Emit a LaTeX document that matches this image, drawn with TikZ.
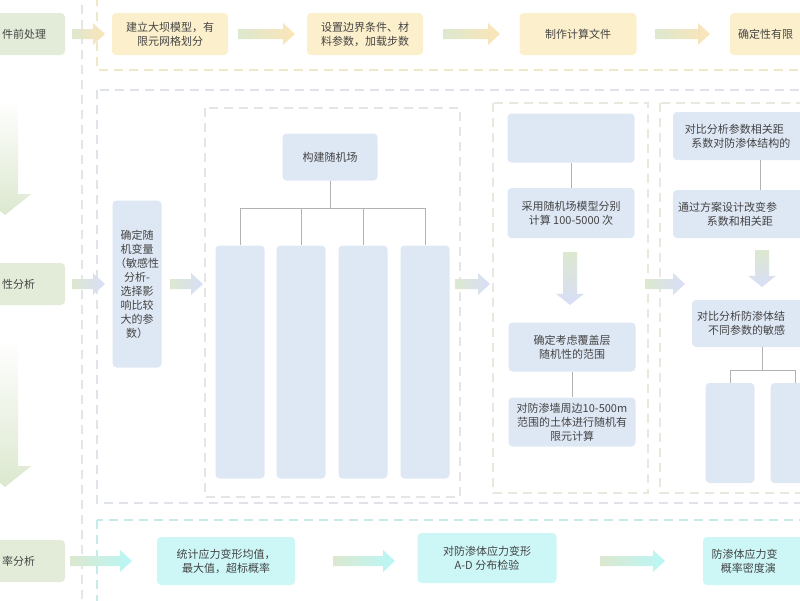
\documentclass[tikz,border=0pt]{standalone}
\usepackage{fontspec}
\setmainfont{Noto Sans CJK SC}
\usetikzlibrary{positioning}
\definecolor{grn}{HTML}{E2ECD8}
\definecolor{arg}{HTML}{DCE8CF}
\definecolor{ylw}{HTML}{FCF0CC}
\definecolor{blu}{HTML}{DEE7F4}
\definecolor{cyn}{HTML}{CDF6F6}
\definecolor{txt}{HTML}{444444}
\tikzset{
  box/.style={rounded corners=4pt,align=center,text=txt,font=\fontsize{11}{14}\selectfont,inner sep=2pt},
  gbox/.style={box,fill=grn},
  ybox/.style={box,fill=ylw},
  bbox/.style={box,fill=blu},
  cbox/.style={box,fill=cyn},
  frame/.style={dash pattern=on 9pt off 6pt,line width=1.2pt},
  tree/.style={draw=gray!60,line width=0.8pt}
}
% fat arrows: from x #1 to x #2 at height #3, colours #4 -> #5
\newcommand\harr[5]{\shade[left color=#4,right color=#5] (#1,#3-5) -- (#2-12,#3-5) -- (#2-12,#3-11) -- (#2,#3) -- (#2-12,#3+11) -- (#2-12,#3+5) -- (#1,#3+5) -- cycle;}
% from y #2 to y #3 at x #1, half width #4, colours #5 -> #6
\newcommand\varr[6]{\shade[top color=#5,bottom color=#6] (#1-#4,#2) -- (#1-#4,#3-1.6*#4) -- (#1-2*#4,#3-1.6*#4) -- (#1,#3) -- (#1+2*#4,#3-1.6*#4) -- (#1+#4,#3-1.6*#4) -- (#1+#4,#2) -- cycle;}
\begin{document}
\begin{tikzpicture}[x=1pt,y=-1pt]
\useasboundingbox (0,0) rectangle (800,600);
\clip (0,0) rectangle (800,600);
% frames
\draw[frame,draw=gray!20] (82,-10) -- (82,610);
\draw[frame,draw=ylw!80!olive!60] (97,-3) rectangle (830,70);
\draw[frame,draw=blu!80!gray!60] (97,90) rectangle (830,503);
\draw[frame,draw=gray!20] (205,108) rectangle (460,497);
\draw[frame,draw=ylw!60!gray!40] (493,103) rectangle (648,493);
\draw[frame,draw=ylw!60!gray!40] (660,103) rectangle (830,493);
\draw[frame,draw=cyn!90!gray] (97,520) rectangle (830,630);
% left column
\fill[grn,rounded corners=4pt] (-20,13) rectangle (65,55);
\fill[grn,rounded corners=4pt] (-20,263) rectangle (65,305);
\fill[grn,rounded corners=4pt] (-20,540) rectangle (65,582);
\node[box,anchor=west] (pre) at (0,34) {件前处理};
\node[box,anchor=west] (sto) at (0,284) {性分析};
\node[box,anchor=west] (pro) at (0,561) {率分析};
\varr{5}{100}{215}{13}{white}{arg}
\varr{5}{340}{487}{13}{white}{arg}
% top row
\node[ybox,minimum width=116,minimum height=42] (dam) at (170,34) {建立大坝模型，有\\限元网格划分};
\node[ybox,minimum width=116,minimum height=42] (bnd) at (365,34) {设置边界条件、材\\料参数，加载步数};
\node[ybox,minimum width=117,minimum height=42] (cal) at (578,34) {制作计算文件};
\fill[ylw,rounded corners=4pt] (730,13) rectangle (830,55);
\node[box,anchor=west] (det) at (736,34) {确定性有限};
\foreach \a/\b in {72/105,238/295,443/500,655/710}
  \harr{\a}{\b}{34}{arg}{ylw!90!orange};
% middle
\node[bbox,minimum width=49,minimum height=167] (var) at (137,284) {确定随\\机变量\\（敏感性\\分析-\\选择影\\响比较\\大的参\\数）};
\foreach \a/\b in {72/105,170/203,455/490,645/685}
  \harr{\a}{\b}{284}{arg}{blu!90!blue!70};
\node[bbox,minimum width=95,minimum height=47] (rf) at (330,157) {构建随机场};
\foreach \x [count=\i] in {240,301,363,425}
  \node[bbox,minimum width=49,minimum height=233] (c\i) at (\x,362) {};
\draw[tree] (rf.south) -- (330,208) -- (240,208) -- (c1.north);
\draw[tree] (330,208) -- (425,208) -- (c4.north);
\draw[tree] (301,208) -- (c2.north);
\draw[tree] (363,208) -- (c3.north);
\node[bbox,minimum width=127,minimum height=49] (e1) at (571,138) {};
\node[bbox,minimum width=127,minimum height=50] (m1) at (571,213) {采用随机场模型分别\\计算 100-5000 次};
\draw[tree] (e1) -- (m1);
\varr{570}{252}{305}{7}{arg}{blu!90!blue!70}
\node[bbox,minimum width=127,minimum height=49] (rng) at (572,347) {确定考虑覆盖层\\随机性的范围};
\node[bbox,minimum width=127,minimum height=49] (fe) at (572,422) {对防渗墙周边10-500m\\范围的土体进行随机有\\限元计算};
\draw[tree] (rng) -- (fe);
\fill[blu,rounded corners=4pt] (673,112) rectangle (830,160);
\fill[blu,rounded corners=4pt] (673,190) rectangle (830,238);
\node[box,anchor=west] (cmp) at (676,136) {对比分析参数相关距\\\hspace*{1.2em}系数对防渗体结构的};
\node[box,anchor=west] (dsg) at (676,214) {通过方案设计改变参\\\hspace*{2.2em}系数和相关距};
\draw[tree] (760,160) -- (760,190);
\varr{762}{250}{287}{7}{arg}{blu!90!blue!70}
\fill[blu,rounded corners=4pt] (692,300) rectangle (830,347);
\node[box,anchor=west] (sen) at (695,323) {对比分析防渗体结\\\hspace*{1em}不同参数的敏感};
\node[bbox,minimum width=49,minimum height=100] (s1) at (730,433) {};
\node[bbox,minimum width=49,minimum height=100] (s2) at (795,433) {};
\draw[tree] (762,347) -- (762,370) -- (730,370) -- (s1.north);
\draw[tree] (762,370) -- (795,370) -- (s2.north);
% bottom
\node[cbox,minimum width=138,minimum height=48] (st) at (226,561) {统计应力变形均值，\\最大值，超标概率};
\node[cbox,minimum width=139,minimum height=50] (ad) at (487,558) {对防渗体应力变形\\A-D 分布检验};
\fill[cyn,rounded corners=4pt] (703,537) rectangle (830,585);
\node[box,anchor=west] (pdf) at (706,561) {\hspace*{0.3em}防渗体应力变\\\hspace*{1em}概率密度演};
\foreach \a/\b in {70/132,333/395,600/665}
  \harr{\a}{\b}{561}{arg}{cyn!90!cyan};
\end{tikzpicture}
\end{document}
